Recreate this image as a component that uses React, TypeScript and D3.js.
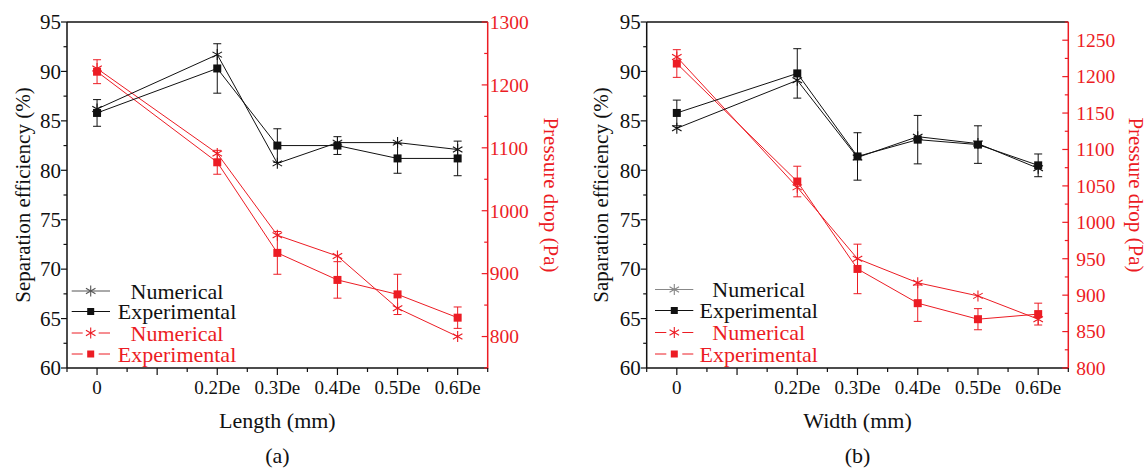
import React from "react";
import * as d3 from "d3";

const xVals = [0, 0.2, 0.3, 0.4, 0.5, 0.6];
const xTicks = [0, 0.1, 0.2, 0.3, 0.4, 0.5, 0.6];
const xTickLabels = ["0", "", "0.2De", "0.3De", "0.4De", "0.5De", "0.6De"];
const effTicks = [60, 65, 70, 75, 80, 85, 90, 95];

// Panel (a) Length
const effNumA = [86.2, 91.7, 80.7, 82.8, 82.8, 82.1];
const effExpA = [85.8, 90.3, 82.5, 82.5, 81.2, 81.2];
const effErrA = [1.35, 2.5, 1.7, 0.9, 1.5, 1.75];
const presNumA = [1226, 1091, 961, 928, 845, 800];
const presExpA = [1221, 1077, 933, 890, 867, 830];
const presErrA = [19, 19, 34, 29, 32, 17];
const presTicksA = [800, 900, 1000, 1100, 1200, 1300];

// Panel (b) Width
const effNumB = [84.25, 89.1, 81.3, 83.4, 82.7, 80.2];
const effExpB = [85.8, 89.8, 81.4, 83.1, 82.6, 80.5];
const effErrB = [1.3, 2.5, 2.4, 2.45, 1.9, 1.15];
const presNumB = [1227, 1048, 950, 917, 899, 867];
const presExpB = [1218, 1056, 936, 889, 867, 874];
const presErrB = [19, 21, 34, 25, 14.5, 15];
const presTicksB = [800, 850, 900, 950, 1000, 1050, 1100, 1150, 1200, 1250];

const legendLabels = ["Numerical", "Experimental", "Numerical", "Experimental"];

const RED = "#ec1c24";
const BLACK = "#111";
const FONT = "'Liberation Serif', 'Times New Roman', serif";

function starPath(cx: number, cy: number, r: number) {
  let d = "";
  for (let k = 0; k < 3; k++) {
    const a = Math.PI / 2 + (k * Math.PI) / 3;
    const dx = r * Math.cos(a);
    const dy = r * Math.sin(a);
    d += `M${cx - dx},${cy - dy}L${cx + dx},${cy + dy}`;
  }
  return d;
}

function Panel(props: any) {
  const {
    x0, x1, y0, y1, presDomain, presTicks, presMinorStep,
    effNum, effExp, effErr, presNum, presExp, presErr,
    xTitle, panelLabel, leftTitle, leftTitleX, rightTitleX,
    legX, legRows, legNumGray, rightLabelGap,
  } = props;
  const x = d3.scaleLinear().domain([-0.05, 0.65]).range([x0, x1]);
  const yL = d3.scaleLinear().domain([60, 95]).range([y1, y0]);
  const yR = d3.scaleLinear().domain(presDomain).range([y1, y0]);
  const line = (vals: number[], ys: any) =>
    d3.line<number>().x((_, i) => x(xVals[i])).y((v) => ys(v))(vals) as string;

  const effMinor = d3.range(62.5, 95, 5);
  const presMinor: number[] = [];
  for (let v = presTicks[0] - presMinorStep; v <= presDomain[1]; v += presMinorStep * 2) {
    if (v >= presDomain[0] && v <= presDomain[1]) presMinor.push(v);
  }
  const xMinor = d3.range(-0.05, 0.651, 0.1).map((v) => Math.round(v * 100) / 100);

  const errBars = (vals: number[], errs: number[], ys: any, color: string) =>
    vals.map((v, i) => {
      const cx = x(xVals[i]);
      const t = ys(v + errs[i]);
      const b = ys(v - errs[i]);
      return (
        <g key={i} stroke={color} strokeWidth={1}>
          <line x1={cx} x2={cx} y1={t} y2={b} />
          <line x1={cx - 4} x2={cx + 4} y1={t} y2={t} />
          <line x1={cx - 4} x2={cx + 4} y1={b} y2={b} />
        </g>
      );
    });
  const squares = (vals: number[], ys: any, color: string) =>
    vals.map((v, i) => (
      <rect key={i} x={x(xVals[i]) - 4} y={ys(v) - 4} width={8} height={8} fill={color} />
    ));
  const stars = (vals: number[], ys: any, color: string) =>
    vals.map((v, i) => (
      <path key={i} d={starPath(x(xVals[i]), ys(v), 5.5)} stroke={color} strokeWidth={1.1} fill="none" />
    ));

  const legColors = [legNumGray, BLACK, RED, RED];
  const legTextColors = [BLACK, BLACK, RED, RED];

  return (
    <g fontFamily={FONT}>
      {/* red series */}
      <path d={line(presNum, yR)} stroke={RED} strokeWidth={1} fill="none" />
      <path d={line(presExp, yR)} stroke={RED} strokeWidth={1} fill="none" />
      {errBars(presExp, presErr, yR, RED)}
      {stars(presNum, yR, RED)}
      {squares(presExp, yR, RED)}
      {/* black series */}
      <path d={line(effNum, yL)} stroke={BLACK} strokeWidth={1} fill="none" />
      <path d={line(effExp, yL)} stroke={BLACK} strokeWidth={1} fill="none" />
      {errBars(effExp, effErr, yL, BLACK)}
      {stars(effNum, yL, BLACK)}
      {squares(effExp, yL, BLACK)}

      {/* frame */}
      <line x1={x0} x2={x1} y1={y0} y2={y0} stroke={BLACK} strokeWidth={1.5} />
      <line x1={x0} x2={x0} y1={y0} y2={y1} stroke={BLACK} strokeWidth={1.5} />
      <line x1={x0} x2={x1} y1={y1} y2={y1} stroke={BLACK} strokeWidth={1.5} />
      <line x1={x1} x2={x1} y1={y0} y2={y1 + 0.75} stroke={RED} strokeWidth={1.5} />

      {/* left axis */}
      {effTicks.map((t) => (
        <g key={t}>
          <line x1={x0 - 6} x2={x0} y1={yL(t)} y2={yL(t)} stroke={BLACK} strokeWidth={1.2} />
          <text x={x0 - 6} y={yL(t)} dy="0.35em" textAnchor="end" fontSize={21} fill={BLACK}>{t}</text>
        </g>
      ))}
      {effMinor.map((t) => (
        <line key={t} x1={x0 - 3.5} x2={x0} y1={yL(t)} y2={yL(t)} stroke={BLACK} strokeWidth={1.2} />
      ))}

      {/* right axis */}
      {presTicks.map((t: number) => (
        <g key={t}>
          <line x1={x1 - 6} x2={x1} y1={yR(t)} y2={yR(t)} stroke={RED} strokeWidth={1.2} />
          <text x={x1 + rightLabelGap} y={yR(t)} dy="0.35em" textAnchor="start" fontSize={19.5} fill={RED}>{t}</text>
        </g>
      ))}
      {presMinor.map((t) => (
        <line key={t} x1={x1 - 3.5} x2={x1} y1={yR(t)} y2={yR(t)} stroke={RED} strokeWidth={1.2} />
      ))}

      {/* bottom axis */}
      {xTicks.map((t, i) => (
        <g key={t}>
          <line x1={x(t)} x2={x(t)} y1={y1} y2={y1 + 7} stroke={BLACK} strokeWidth={1.2} />
          <text x={x(t)} y={y1 + 26} textAnchor="middle" fontSize={19} fill={BLACK}>{xTickLabels[i]}</text>
        </g>
      ))}
      {xMinor.map((t) => (
        <line key={t} x1={x(t)} x2={x(t)} y1={y1} y2={y1 + 4} stroke={BLACK} strokeWidth={1.2} />
      ))}

      {/* titles */}
      <text x={(x0 + x1) / 2} y={428} textAnchor="middle" fontSize={22} fill={BLACK}>{xTitle}</text>
      <text x={(x0 + x1) / 2} y={463} textAnchor="middle" fontSize={22} fill={BLACK}>{panelLabel}</text>
      <text transform={`translate(${leftTitleX},${(y0 + y1) / 2}) rotate(-90)`} dy="0.35em" textAnchor="middle" fontSize={21} fill={BLACK}>{leftTitle}</text>
      <text transform={`translate(${rightTitleX},${(y0 + y1) / 2}) rotate(90)`} dy="0.35em" textAnchor="middle" fontSize={21} fill={RED}>Pressure drop (Pa)</text>

      {/* legend */}
      {legendLabels.map((lab, i) => {
        const yy = legRows[i];
        const c = legColors[i];
        const lx0 = x0 + legX[0];
        const lx1 = x0 + legX[1];
        const sx = x0 + legX[2];
        const isRed = i >= 2;
        return (
          <g key={i}>
            {isRed ? (
              <g stroke={c} strokeWidth={1}>
                <line x1={lx0} x2={sx - 8} y1={yy} y2={yy} />
                <line x1={sx + 8} x2={lx1} y1={yy} y2={yy} />
              </g>
            ) : (
              <line x1={lx0} x2={lx1} y1={yy} y2={yy} stroke={c} strokeWidth={1} />
            )}
            {i % 2 === 0 ? (
              <path d={starPath(sx, yy, 5.5)} stroke={c} strokeWidth={1.1} fill="none" />
            ) : (
              <rect x={sx - 3.5} y={yy - 3.5} width={7} height={7} fill={c} />
            )}
            <text x={x0 + legX[3]} y={yy} dy="0.35em" textAnchor="middle" fontSize={22} fill={legTextColors[i]}>{lab}</text>
          </g>
        );
      })}
    </g>
  );
}

export default function App() {
  return (
    <svg width={1147} height={470} style={{ position: "absolute", left: 0, top: 0, background: "#fff" }}>
      <rect width={1147} height={470} fill="#fff" />
      <Panel
        x0={67} x1={487.7} y0={22} y1={368}
        presDomain={[750, 1300]} presTicks={presTicksA} presMinorStep={50}
        effNum={effNumA} effExp={effExpA} effErr={effErrA}
        presNum={presNumA} presExp={presExpA} presErr={presErrA}
        xTitle="Length (mm)" panelLabel="(a)" leftTitle="Separation efficiency (%)"
        leftTitleX={23} rightTitleX={551}
        legX={[4.7, 43, 23.7, 110]} legRows={[291, 311.5, 333, 354]}
        legNumGray={"#555"} rightLabelGap={2}
      />
      <Panel
        x0={646.7} x1={1068.3} y0={22} y1={368}
        presDomain={[800, 1275]} presTicks={presTicksB} presMinorStep={25}
        effNum={effNumB} effExp={effExpB} effErr={effErrB}
        presNum={presNumB} presExp={presExpB} presErr={presErrB}
        xTitle="Width (mm)" panelLabel="(b)" leftTitle="Saparation efficiency (%)"
        leftTitleX={601} rightTitleX={1136}
        legX={[8.3, 46.6, 27.6, 112]} legRows={[289.5, 310.5, 332.5, 354]}
        legNumGray={"#888"} rightLabelGap={8}
      />
    </svg>
  );
}
